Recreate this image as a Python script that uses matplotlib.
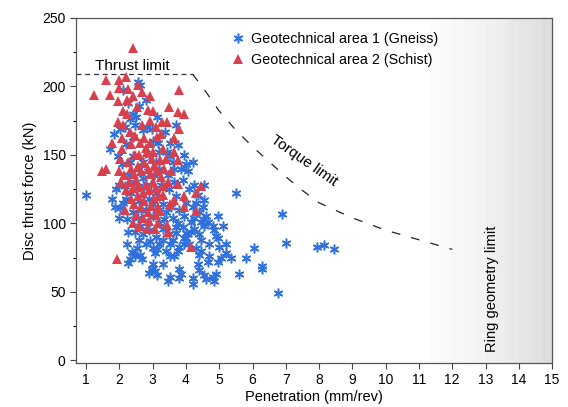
import numpy as np
import matplotlib.pyplot as plt
from matplotlib.ticker import MultipleLocator

plt.rcParams['font.family'] = ['Liberation Sans', 'DejaVu Sans']
plt.rcParams['font.size'] = 10

# Geotechnical area 1 (Gneiss): penetration (mm/rev), disc thrust force (kN)
gneiss = [
    (2.56, 203), (2.11, 197), (2.62, 201), (2.41, 180), (2.32, 176), (2.17, 170),
    (2.47, 172), (2.71, 168), (2.83, 170), (2.01, 169), (2.41, 163), (1.71, 154),
    (1.95, 149), (2.32, 145), (2.41, 149), (3.14, 178), (3.38, 167), (3.53, 159),
    (3.75, 157), (3.44, 152), (3.53, 149), (3.99, 143), (3.17, 159), (2.99, 169),
    (2.07, 143), (2.60, 186), (2.80, 190), (3.00, 160), (2.20, 158), (2.90, 150),
    (3.20, 152), (3.70, 172), (1.85, 165), (2.50, 178), (2.25, 188), (3.65, 140),
    (4.20, 145), (3.95, 150), (2.70, 145), (3.10, 145),
    (1.01, 121), (1.77, 118), (1.86, 112), (2.01, 111), (1.98, 128), (2.17, 127),
    (2.22, 103), (2.62, 98), (2.83, 100), (4.54, 128), (4.60, 105), (4.66, 101),
    (4.24, 128), (4.54, 117), (4.51, 103), (4.24, 104), (4.45, 101), (5.51, 122),
    (2.30, 135), (2.50, 125), (2.70, 133), (2.90, 118), (3.10, 122), (3.30, 114),
    (3.50, 125), (3.70, 120), (3.90, 132), (4.10, 125), (4.30, 115), (2.40, 108),
    (2.60, 116), (2.80, 110), (3.00, 105), (3.20, 100), (3.40, 108), (3.60, 104),
    (3.80, 110), (4.00, 115), (4.20, 112), (4.40, 108), (2.20, 118), (2.45, 130),
    (2.75, 127), (3.05, 135), (3.25, 128), (3.45, 135), (3.65, 130), (3.85, 140),
    (4.05, 138), (2.35, 122), (2.55, 104), (2.65, 110), (2.95, 128), (3.15, 110),
    (3.35, 103), (3.55, 112), (3.75, 100), (3.95, 105), (4.15, 101), (4.35, 121),
    (4.50, 112), (1.90, 125), (2.10, 115), (2.00, 104), (3.20, 140), (3.60, 145),
    (2.85, 138), (2.60, 140), (3.00, 114),
    (2.26, 94), (2.47, 94), (2.22, 85), (2.53, 82), (2.47, 76), (2.32, 74),
    (2.68, 74), (2.93, 87), (2.99, 67), (2.38, 79), (2.26, 71), (2.62, 77),
    (3.08, 78), (3.02, 70), (2.90, 64), (3.14, 62), (3.32, 70), (3.47, 58),
    (3.78, 60), (3.78, 67), (3.63, 76), (3.53, 85), (3.78, 83), (3.99, 89),
    (4.20, 56), (4.36, 70), (4.66, 72), (4.60, 59), (4.84, 58), (4.39, 77),
    (4.45, 88), (4.90, 91), (4.99, 83), (5.05, 75), (4.96, 72), (4.39, 66),
    (4.20, 60), (3.53, 61), (3.08, 65), (4.54, 62), (4.81, 61), (4.24, 96),
    (4.39, 92), (3.93, 85), (3.75, 80), (3.53, 76), (3.14, 81), (3.32, 88),
    (3.69, 93), (4.00, 93), (4.54, 98), (4.15, 94), (3.93, 89), (3.84, 63),
    (5.36, 75), (5.20, 78), (4.70, 76), (4.96, 89), (4.45, 80), (4.90, 63),
    (5.60, 63), (6.27, 69), (6.27, 67), (6.03, 82), (6.78, 49), (6.88, 107),
    (7.00, 86), (7.94, 83), (8.15, 84), (8.45, 81), (5.80, 75), (4.84, 95),
    (2.70, 92), (2.90, 95), (3.10, 90), (3.30, 96), (3.50, 92), (3.70, 97),
    (2.80, 85), (3.00, 82), (3.20, 85), (3.40, 80), (3.60, 88), (2.60, 88),
    (3.90, 97), (4.10, 85), (4.30, 82), (4.70, 85), (4.80, 98), (5.20, 85),
    (5.10, 98), (4.95, 105),
]

# Geotechnical area 2 (Schist)
schist = [
    (2.41, 228), (1.59, 205), (1.25, 194), (1.71, 194), (1.98, 199), (2.26, 198),
    (1.95, 189), (2.22, 190), (2.56, 201), (2.41, 193), (2.68, 196), (2.93, 193),
    (2.87, 183), (2.53, 185), (2.22, 180), (1.95, 174), (2.11, 172), (2.68, 172),
    (2.93, 175), (1.77, 159), (2.07, 162), (2.07, 154), (2.62, 159), (2.93, 159),
    (2.83, 152), (2.47, 150), (2.99, 147), (2.01, 147), (2.32, 167), (2.47, 164),
    (3.78, 197), (3.75, 181), (3.93, 180), (3.02, 182), (3.29, 174), (3.44, 174),
    (3.78, 169), (3.63, 162), (3.14, 163), (3.32, 154), (3.63, 152), (3.75, 146),
    (3.23, 146), (3.02, 152),
    (1.47, 138), (1.59, 140), (1.98, 138), (2.17, 110), (1.92, 74), (2.83, 96),
    (4.45, 127), (4.30, 122), (3.93, 120), (3.93, 112), (4.30, 109), (3.75, 129),
    (3.63, 117), (4.14, 83), (3.32, 121), (3.53, 114), (3.23, 109), (3.17, 100),
    (3.44, 99), (3.47, 94), (3.08, 96),
    (2.25, 145), (2.35, 140), (2.45, 136), (2.55, 142), (2.65, 138), (2.75, 144),
    (2.85, 140), (2.95, 136), (3.05, 142), (3.15, 138), (3.25, 134), (3.35, 140),
    (3.45, 130), (2.30, 130), (2.40, 126), (2.50, 131), (2.60, 127), (2.70, 122),
    (2.80, 128), (2.90, 124), (3.00, 130), (3.10, 126), (3.20, 120), (2.35, 118),
    (2.45, 114), (2.55, 120), (2.65, 112), (2.75, 116), (2.85, 108), (2.95, 113),
    (3.05, 118), (3.15, 112), (2.50, 106), (2.70, 104), (2.90, 102), (3.10, 106),
    (2.60, 98), (2.40, 100), (2.20, 124), (3.30, 127), (2.05, 130), (2.15, 135),
    (3.40, 147), (3.55, 138), (2.60, 150), (2.80, 155), (3.10, 170), (2.75, 162),
    (2.35, 158), (3.25, 165), (3.50, 185), (2.10, 182), (2.00, 205), (2.20, 207),
]

# machine limits
thrust_p = [0.7, 4.2]
thrust_f = [209, 209]
torque_p = [4.2, 4.6, 5.0, 5.5, 6.0, 6.5, 7.0, 7.5, 8.0, 9.0, 10.0, 11.0, 12.0]
torque_f = [209, 196, 182, 168, 156, 145, 134, 124, 115, 104, 95, 88, 81]
ring_p = 11.0

blue = '#3070da'
red = '#d8404e'

fig = plt.figure(figsize=(5.68, 4.07), dpi=100)
ax = fig.add_axes([0.134, 0.108, 0.838, 0.848])
ax.set_xlim(0.7, 15)
ax.set_ylim(-2, 250)

# shaded zone beyond the ring geometry limit
steps = np.linspace(0, 1, 12).reshape(1, -1)
ax.imshow(steps, cmap='Greys', vmin=0, vmax=4.5, aspect='auto',
          extent=[ring_p, 15, -2, 250], interpolation='nearest', zorder=0)

gx, gy = zip(*gneiss)
sx, sy = zip(*schist)
ax.plot(gx, gy, linestyle='none', marker=(6, 2, 0), markersize=7,
        markeredgewidth=1.1, color=blue, label='Geotechnical area 1 (Gneiss)',
        zorder=2)
ax.plot(sx, sy, linestyle='none', marker='^', markersize=7,
        color=red, markeredgewidth=0, label='Geotechnical area 2 (Schist)',
        zorder=3)

ax.plot(thrust_p, thrust_f, color='#333333', lw=0.9, dashes=(4, 3))
ax.plot(torque_p, torque_f, color='#222222', lw=0.9, dashes=(7, 9))

ax.text(1.28, 215, 'Thrust limit', ha='left', va='center', fontsize=11)
ax.text(7.55, 146, 'Torque limit', ha='center', va='center', rotation=-35,
        fontsize=11)
ax.text(13.2, 52, 'Ring geometry limit', ha='center', va='center',
        rotation=90, fontsize=10.5)

ax.set_xticks(range(1, 16))
ax.yaxis.set_major_locator(MultipleLocator(50))
ax.yaxis.set_minor_locator(MultipleLocator(25))
ax.tick_params(direction='out', length=4, width=0.8, color='#444444')
ax.tick_params(which='minor', direction='out', length=2.5, width=0.8)
for s in ax.spines.values():
    s.set_color('#555555')
    s.set_linewidth(0.9)

ax.set_xlabel('Penetration (mm/rev)', labelpad=2, fontsize=10.5)
ax.set_ylabel('Disc thrust force (kN)', labelpad=4, fontsize=10.5)

ax.legend(loc='upper left', bbox_to_anchor=(0.31, 0.975), frameon=False,
          handletextpad=0.3, labelspacing=0.45, borderaxespad=0,
          handlelength=1.2, fontsize=10.3)

fig.savefig('out.png', dpi=100)
